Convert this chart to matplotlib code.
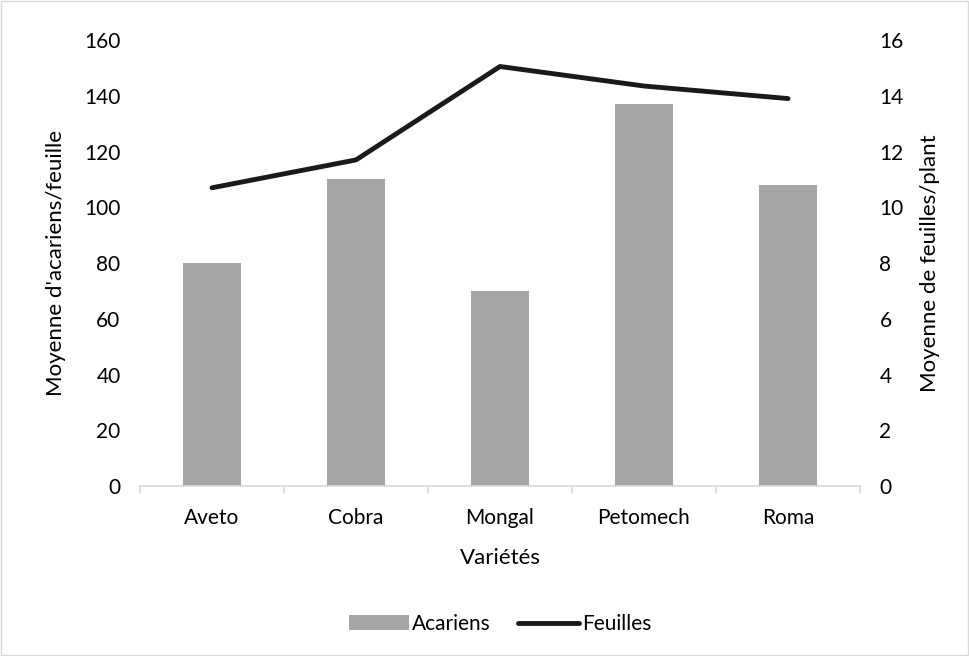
import matplotlib.pyplot as plt
import numpy as np
from matplotlib.patches import Rectangle

plt.rcParams['font.family'] = ['Lato', 'DejaVu Sans']

varietes = ['Aveto', 'Cobra', 'Mongal', 'Petomech', 'Roma']
acariens = [80, 110, 70, 137, 108]
feuilles = [10.7, 11.7, 15.05, 14.35, 13.9]

fig = plt.figure(figsize=(9.69, 6.56), dpi=100)
ax = fig.add_axes([0.1445, 0.259, 0.743, 0.68])
ax2 = ax.twinx()

x = np.arange(len(varietes))
ax.bar(x, acariens, width=0.4, color='#A5A5A5', label='Acariens', zorder=2)
ax2.plot(x, feuilles, color='#1a1a1a', lw=3.5, solid_capstyle='round',
         solid_joinstyle='round', label='Feuilles')

ax.set_xlim(-0.5, len(varietes) - 0.5)
ax.set_ylim(0, 160)
ax2.set_ylim(0, 16)
ax.set_yticks(range(0, 161, 20))
ax2.set_yticks(range(0, 17, 2))
ax.set_xticks(x)
ax.set_xticklabels(varietes)
ax.set_xticks(np.arange(-0.5, len(varietes)), minor=True)

for a in (ax, ax2):
    for s in a.spines.values():
        s.set_visible(False)
    a.tick_params(axis='y', length=0, labelsize=15, colors='black', pad=14)
ax.spines['bottom'].set_visible(True)
ax.spines['bottom'].set_color('#D9D9D9')
ax.spines['bottom'].set_linewidth(1.2)
ax.tick_params(axis='x', which='major', length=0, labelsize=15, pad=16)
ax.tick_params(axis='x', which='minor', length=6, color='#D9D9D9', width=1.2)

ax.set_ylabel("Moyenne d'acariens/feuille", fontsize=16, labelpad=13)
ax2.set_ylabel('Moyenne de feuilles/plant', fontsize=16, labelpad=12)
ax.set_xlabel('Variétés', fontsize=16, labelpad=14)

h1, l1 = ax.get_legend_handles_labels()
h2, l2 = ax2.get_legend_handles_labels()
fig.legend(h1 + h2, l1 + l2, loc='center', bbox_to_anchor=(0.516, 0.049), ncol=2,
           frameon=False, fontsize=15, handlelength=2.9, handletextpad=0.15,
           columnspacing=1.3)

fig.patches.append(Rectangle((0.001, 0.001), 0.998, 0.998, transform=fig.transFigure,
                             fill=False, edgecolor='#D9D9D9', lw=1))

fig.savefig('out.png', dpi=100)
